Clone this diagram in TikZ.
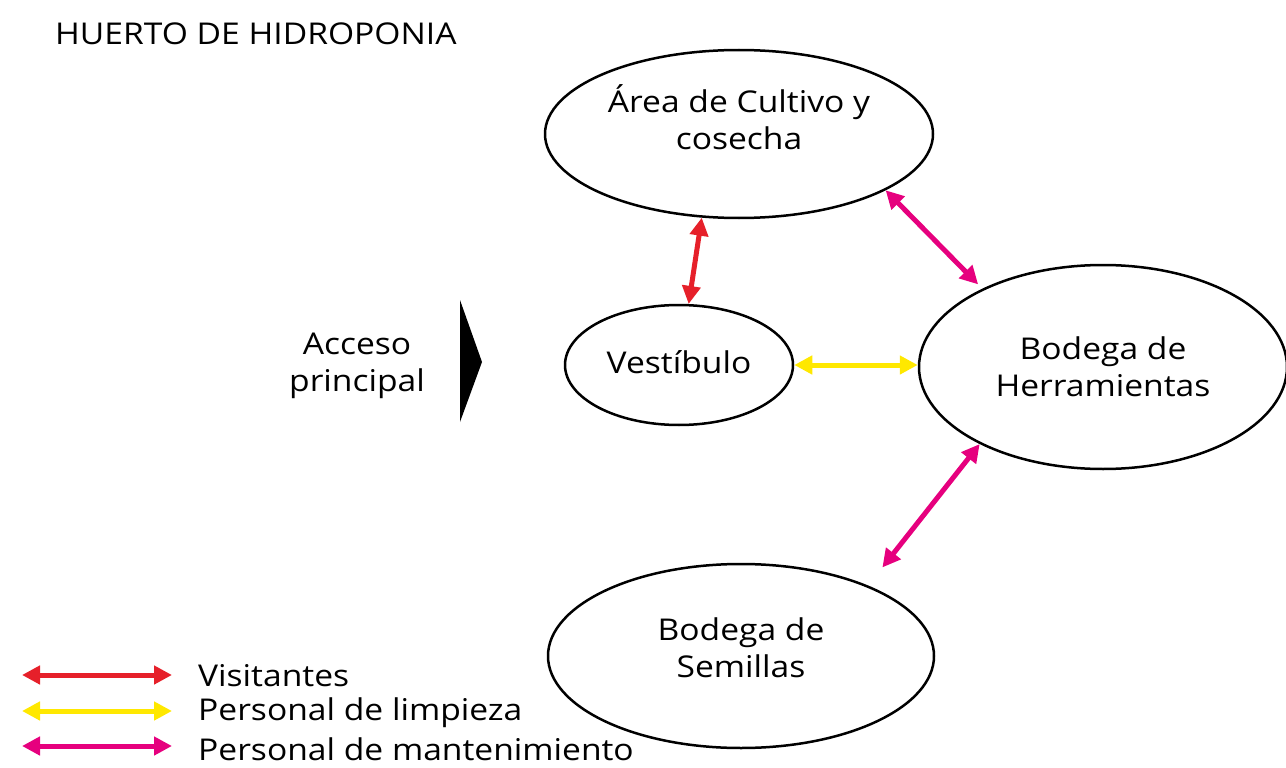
\documentclass[tikz,border=0pt]{standalone}
\usepackage{fontspec}
\setmainfont[FakeStretch=1.12]{Open Sans}
\usepackage{xcolor}
\usepackage{tikz}
\usetikzlibrary{shapes.geometric,arrows.meta}
\definecolor{visit}{RGB}{230,32,42}
\definecolor{limp}{RGB}{255,232,0}
\definecolor{mant}{RGB}{230,0,126}

\begin{document}
\begin{tikzpicture}[x=1pt,y=-1pt,
  every node/.style={font=\fontsize{30}{37}\selectfont,align=center,inner sep=0pt},
  every label/.style={align=center},
  area/.style={draw,ellipse,line width=2.5pt},
  flujo/.style={line width=5pt,{Triangle[length=18pt,width=18pt]}-{Triangle[length=18pt,width=18pt]}}]
\useasboundingbox (0,0) rectangle (1286,768);
\node[anchor=west] (titulo) at (55,34) {HUERTO DE HIDROPONIA};
\node (acceso) at (357,366) {Acceso\\principal};
\fill (460,300) -- (482,362) -- (460,422) -- cycle;
\node[area,minimum width=388pt,minimum height=168pt,
  label={[yshift=17pt]center:Área de Cultivo y\\cosecha}] (cultivo) at (739,134) {};
\node[area,minimum width=228pt,minimum height=120pt,
  label={[yshift=3pt]center:Vestíbulo}] (vest) at (679,365) {};
\node[area,minimum width=368pt,minimum height=204pt,
  label={center:Bodega de\\Herramientas}] (herr) at (1103,367) {};
\node[area,minimum width=386pt,minimum height=184pt,
  label={[yshift=8pt]center:Bodega de\\Semillas}] (semillas) at (741,656) {};
\draw[flujo,visit] (vest.81) -- (cultivo.246);
\draw[flujo,limp] (vest.east) -- (vest.east -| herr.west);
\draw[flujo,mant,shorten >=6pt] (cultivo.-21) -- (herr.147);
\draw[flujo,mant,shorten >=23pt] (herr.212) -- (semillas.29);
% leyenda
\node[anchor=west] (ley1) at (198,676) {Visitantes};
\node[anchor=west] (ley2) at (198,713) {Personal de limpieza};
\node[anchor=west] (ley3) at (198,749) {Personal de mantenimiento};
\coordinate (l1) at (22,675);
\coordinate (l2) at (22,711);
\coordinate (l3) at (22,746);
\draw[flujo,visit] (l1) -- (l1 -| 172,0);
\draw[flujo,limp] (l2) -- (l2 -| 172,0);
\draw[flujo,mant] (l3) -- (l3 -| 172,0);
\end{tikzpicture}
\end{document}
